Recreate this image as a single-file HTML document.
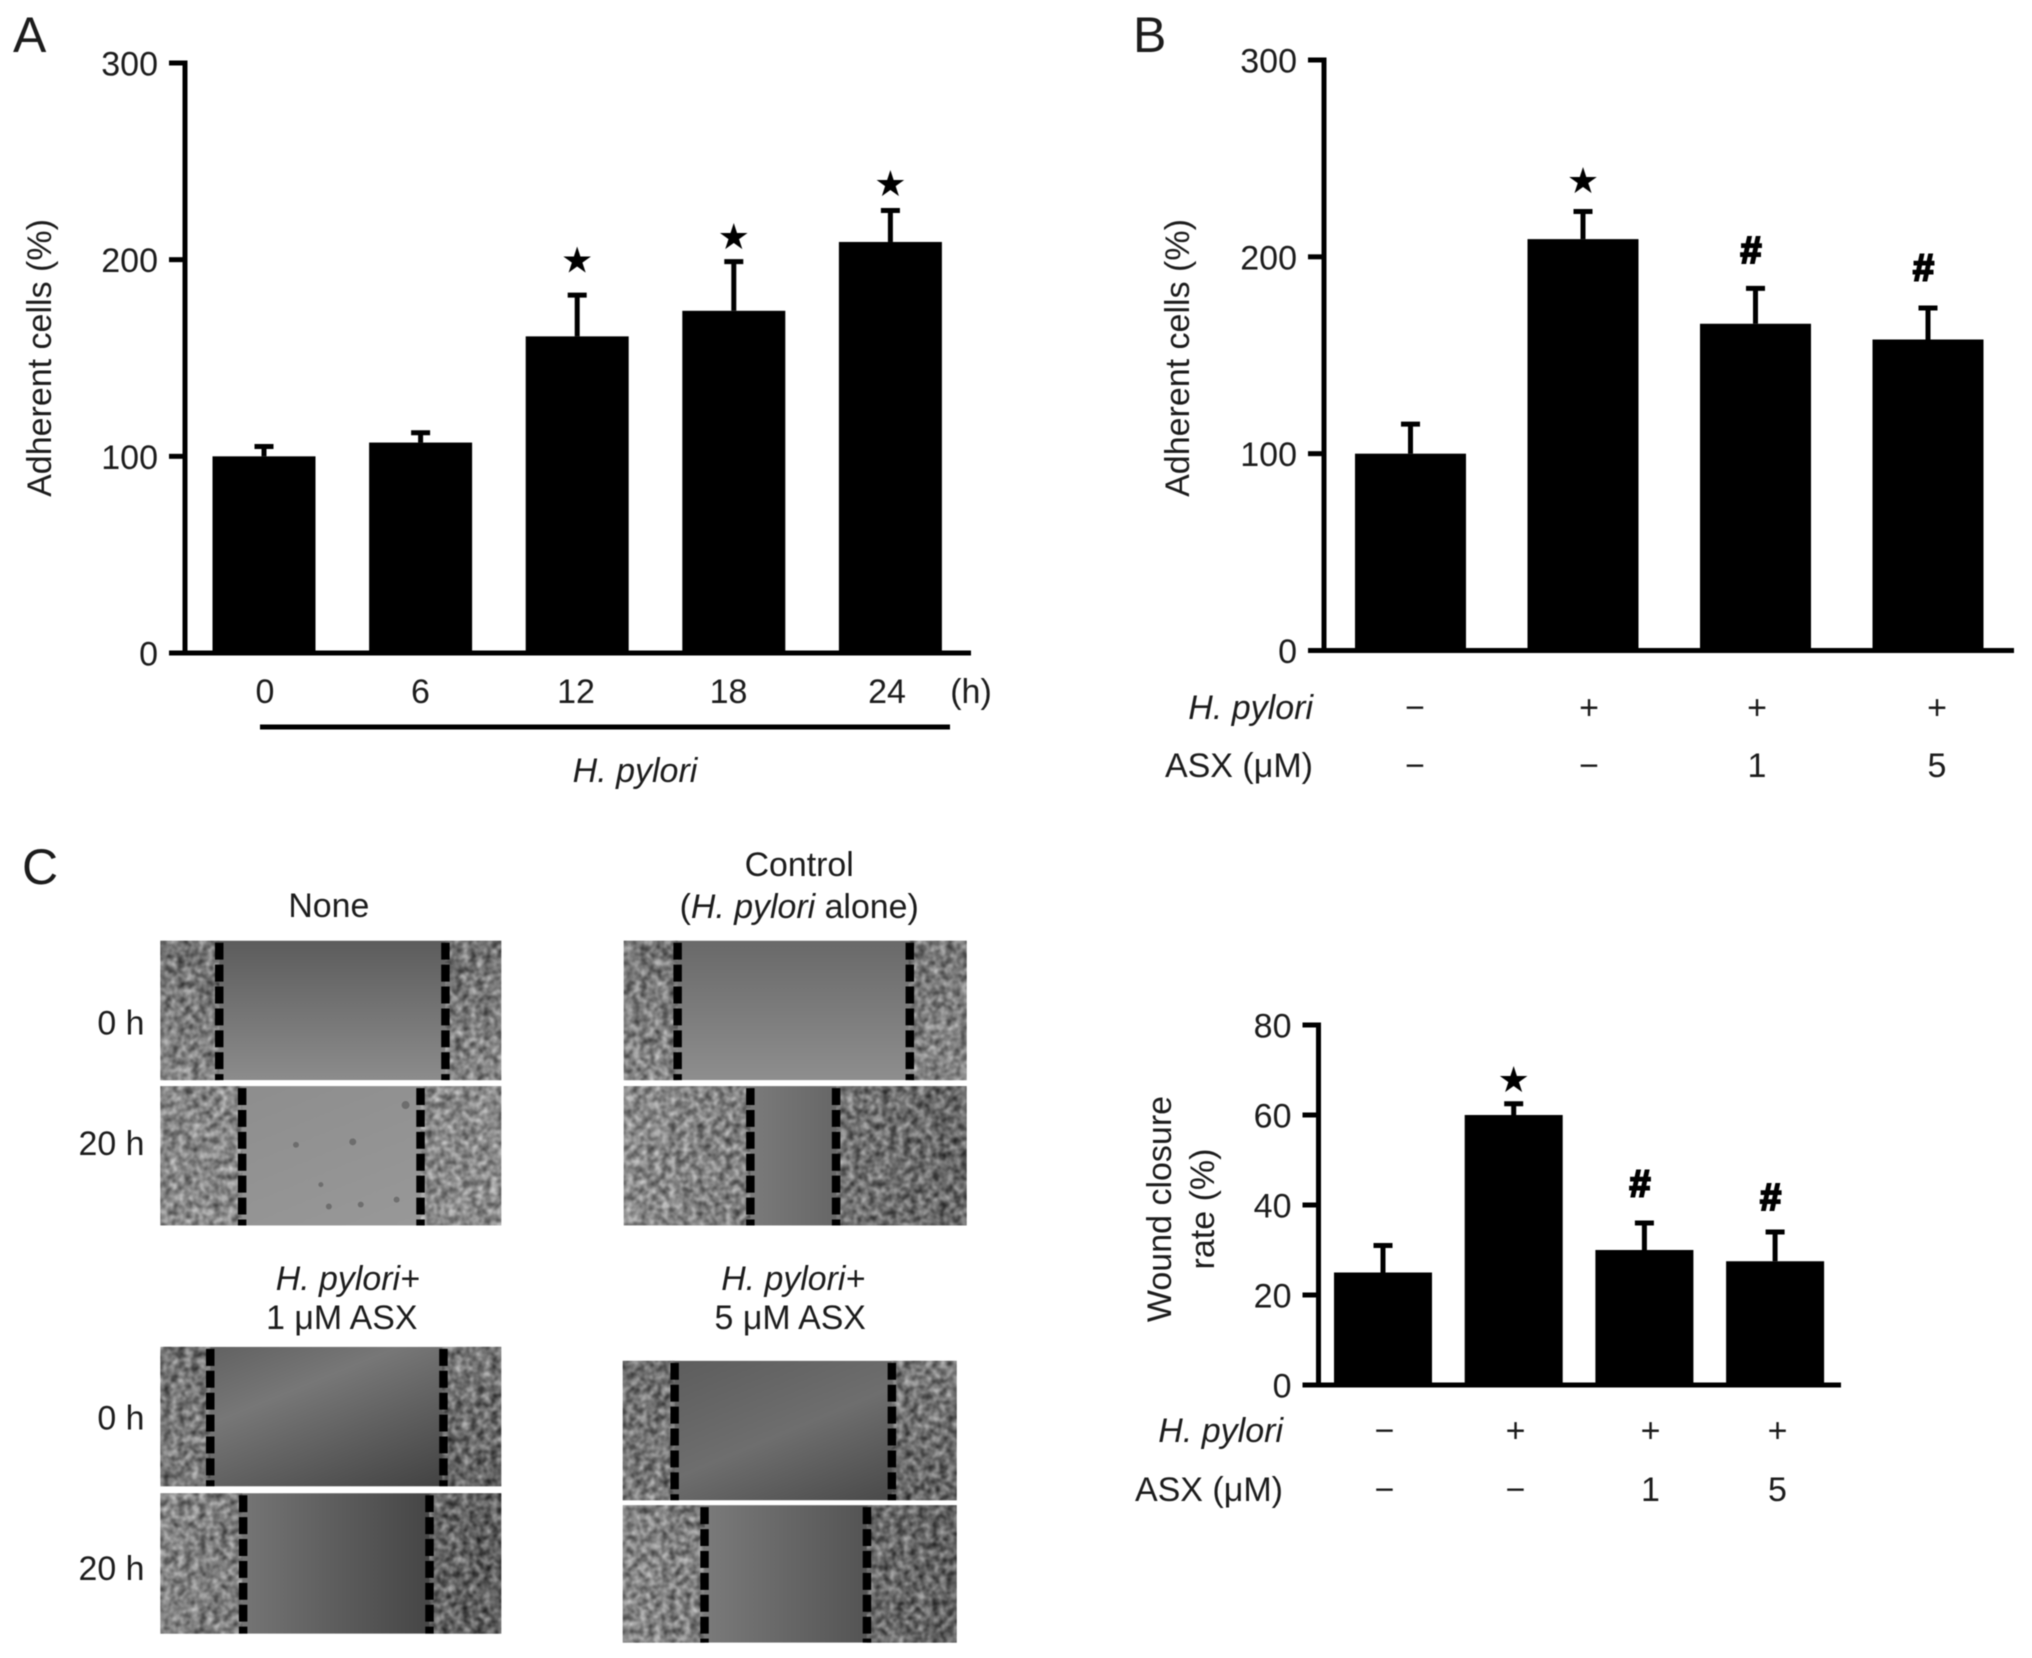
<!DOCTYPE html>
<html lang="en">
<head>
<meta charset="utf-8">
<title>H. pylori adherence and wound closure figure</title>
<style>
html,body{margin:0;padding:0;background:#fff;}
body{width:2032px;height:1658px;overflow:hidden;}
svg{display:block;filter:blur(0.6px);}
text{font-family:"Liberation Sans",sans-serif;fill:#1c1c1c;font-size:34px;}
.it{font-style:italic;}
</style>
</head>
<body>
<svg id="figure" xmlns="http://www.w3.org/2000/svg" width="2032" height="1658" viewBox="0 0 2032 1658">
<defs>
  <filter id="cells" x="0" y="0" width="100%" height="100%" color-interpolation-filters="sRGB">
    <feTurbulence type="fractalNoise" baseFrequency="0.14" numOctaves="2" seed="4"/>
    <feColorMatrix type="matrix" values="1.4 0 0 0 -0.2  1.4 0 0 0 -0.2  1.4 0 0 0 -0.2  0 0 0 0 0.55"/>
    <feGaussianBlur stdDeviation="0.7"/>
  </filter>
  <linearGradient id="g-none0" x1="0" y1="0" x2="0" y2="1"><stop offset="0" stop-color="#5c5c5c"/><stop offset="1" stop-color="#8c8c8c"/></linearGradient>
  <linearGradient id="g-none20" x1="0" y1="0" x2="1" y2="1"><stop offset="0" stop-color="#8c8c8c"/><stop offset="1" stop-color="#9a9a9a"/></linearGradient>
  <linearGradient id="g-ctrl0" x1="0" y1="0" x2="0" y2="1"><stop offset="0" stop-color="#696969"/><stop offset="1" stop-color="#8e8e8e"/></linearGradient>
  <linearGradient id="g-ctrl20" x1="0" y1="0" x2="1" y2="0"><stop offset="0" stop-color="#999"/><stop offset=".5" stop-color="#707070"/><stop offset="1" stop-color="#484848"/></linearGradient>
  <linearGradient id="g-h10" x1="0" y1="0" x2="1" y2="1"><stop offset="0" stop-color="#5c5c5c"/><stop offset=".35" stop-color="#777"/><stop offset="1" stop-color="#3a3a3a"/></linearGradient>
  <linearGradient id="g-h120" x1="0" y1="0" x2="1" y2="0"><stop offset="0" stop-color="#8a8a8a"/><stop offset="1" stop-color="#333"/></linearGradient>
  <linearGradient id="g-h50" x1="0" y1="0" x2="1" y2="1"><stop offset="0" stop-color="#5a5a5a"/><stop offset=".5" stop-color="#6e6e6e"/><stop offset="1" stop-color="#404040"/></linearGradient>
  <linearGradient id="g-h520" x1="0" y1="0" x2="1" y2="0"><stop offset="0" stop-color="#8e8e8e"/><stop offset="1" stop-color="#3e3e3e"/></linearGradient>
</defs>

<text x="13" y="52" style="font-size:50px">A</text>
<text x="1133" y="52" style="font-size:50px">B</text>
<text x="22" y="884" style="font-size:50px">C</text>

<g id="chart-a"></g>
<g id="chart-b"></g>
<g id="chart-c"></g>

<line x1="260" y1="727" x2="950" y2="727" stroke="#000" stroke-width="5"/>
<text class="it" x="635" y="782" text-anchor="middle">H. pylori</text>
<text x="971" y="703" text-anchor="middle">(h)</text>

<g transform="scale(0.9965 0.9955)">
<text x="330" y="921" text-anchor="middle">None</text>
<text x="802" y="880" text-anchor="middle">Control</text>
<text x="802" y="922" text-anchor="middle">(<tspan class="it">H. pylori</tspan> alone)</text>
<text class="it" x="349" y="1296" text-anchor="middle">H. pylori+</text>
<text x="343" y="1335" text-anchor="middle">1 μM ASX</text>
<text class="it" x="796" y="1296" text-anchor="middle">H. pylori+</text>
<text x="793" y="1335" text-anchor="middle">5 μM ASX</text>
<text x="145" y="1039" text-anchor="end">0 h</text>
<text x="145" y="1160" text-anchor="end">20 h</text>
<text x="145" y="1436" text-anchor="end">0 h</text>
<text x="145" y="1587" text-anchor="end">20 h</text>

<g>
  <rect x="161" y="945" width="342" height="140" fill="url(#g-none0)"/>
  <rect x="161" y="945" width="59" height="140" filter="url(#cells)"/>
  <rect x="447" y="945" width="56" height="140" filter="url(#cells)"/>
  <path d="M220 947V1085M447 947V1085" stroke="#000" stroke-width="8.5" stroke-dasharray="17 5" fill="none"/>
</g>
<g>
  <rect x="161" y="1091" width="342" height="140" fill="url(#g-none20)"/>
  <rect x="161" y="1091" width="82" height="140" filter="url(#cells)"/>
  <rect x="422" y="1091" width="81" height="140" filter="url(#cells)"/>
  <path d="M243 1093V1231M422 1093V1231" stroke="#000" stroke-width="8.5" stroke-dasharray="17 5" fill="none"/>
  <g fill="#555" opacity=".6"><circle cx="297" cy="1150" r="3"/><circle cx="354" cy="1147" r="3.5"/><circle cx="407" cy="1110" r="4"/><circle cx="322" cy="1190" r="2.5"/><circle cx="330" cy="1212" r="3"/><circle cx="362" cy="1210" r="3"/><circle cx="398" cy="1205" r="3"/></g>
</g>
<g>
  <rect x="626" y="945" width="344" height="140" fill="url(#g-ctrl0)"/>
  <rect x="626" y="945" width="54" height="140" filter="url(#cells)"/>
  <rect x="912" y="945" width="58" height="140" filter="url(#cells)"/>
  <path d="M680 947V1085M913 947V1085" stroke="#000" stroke-width="8.5" stroke-dasharray="17 5" fill="none"/>
</g>
<g>
  <rect x="626" y="1091" width="344" height="140" fill="url(#g-ctrl20)"/>
  <rect x="626" y="1091" width="127" height="140" filter="url(#cells)"/>
  <rect x="839" y="1091" width="131" height="140" filter="url(#cells)"/>
  <path d="M753 1093V1231M839 1093V1231" stroke="#000" stroke-width="8.5" stroke-dasharray="17 5" fill="none"/>
</g>
<g>
  <rect x="161" y="1353" width="342" height="140" fill="url(#g-h10)"/>
  <rect x="161" y="1353" width="50" height="140" filter="url(#cells)"/>
  <rect x="444" y="1353" width="59" height="140" filter="url(#cells)"/>
  <path d="M211 1355V1493M445 1355V1493" stroke="#000" stroke-width="8.5" stroke-dasharray="17 5" fill="none"/>
</g>
<g>
  <rect x="161" y="1500" width="342" height="141" fill="url(#g-h120)"/>
  <rect x="161" y="1500" width="82" height="141" filter="url(#cells)"/>
  <rect x="431" y="1500" width="72" height="141" filter="url(#cells)"/>
  <path d="M244 1502V1641M431 1502V1641" stroke="#000" stroke-width="8.5" stroke-dasharray="17 5" fill="none"/>
</g>
<g>
  <rect x="625" y="1367" width="335" height="140" fill="url(#g-h50)"/>
  <rect x="625" y="1367" width="52" height="140" filter="url(#cells)"/>
  <rect x="895" y="1367" width="65" height="140" filter="url(#cells)"/>
  <path d="M677 1369V1507M895 1369V1507" stroke="#000" stroke-width="8.5" stroke-dasharray="17 5" fill="none"/>
</g>
<g>
  <rect x="625" y="1512" width="335" height="138" fill="url(#g-h520)"/>
  <rect x="625" y="1512" width="82" height="138" filter="url(#cells)"/>
  <rect x="870" y="1512" width="90" height="138" filter="url(#cells)"/>
  <path d="M707 1514V1650M870 1514V1650" stroke="#000" stroke-width="8.5" stroke-dasharray="17 5" fill="none"/>
</g>
</g>
</svg>

<script>
// Panel A data
var aCategories = ['0', '6', '12', '18', '24'];
var aValues = [100, 107, 161, 174, 209];
var aErrors = [5, 5, 21, 25, 16];
var aMarks = ['', '', '*', '*', '*'];
var aMarkAt = [0, 0, 200, 212, 239];
var aTicks = [0, 100, 200, 300];
// Panel B data
var bValues = [100, 209, 166, 158];
var bErrors = [15, 14, 18, 16];
var bMarks = ['', '*', '#', '#'];
var bMarkAt = [0, 239, 204, 195];
var bTicks = [0, 100, 200, 300];
var bRowPylori = ['−', '+', '+', '+'];
var bRowAsx = ['−', '−', '1', '5'];
// Panel C data
var cValues = [25, 60, 30, 27.5];
var cErrors = [6, 2.5, 6, 6.5];
var cMarks = ['', '*', '#', '#'];
var cMarkAt = [0, 68, 45, 42];
var cTicks = [0, 20, 40, 60, 80];
var cRowPylori = ['−', '+', '+', '+'];
var cRowAsx = ['−', '−', '1', '5'];

var NS = 'http://www.w3.org/2000/svg';
function make(parent, tag, props, txt) {
  var el = document.createElementNS(NS, tag);
  for (var k in props) { el.setAttribute(k, props[k]); }
  if (txt !== undefined) { el.textContent = txt; }
  parent.appendChild(el);
  return el;
}

function drawChart(root, opt) {
  var yMax = opt.ticks[opt.ticks.length - 1];
  function yPos(v) { return opt.y0 - (v / yMax) * (opt.y0 - opt.yTop); }
  function xPos(i) { return opt.x0 + i * opt.step; }

  var yAxis = make(root, 'line', {x1: opt.axisX, x2: opt.axisX, y1: yPos(yMax) - 2.5, y2: opt.y0, stroke: '#000', 'stroke-width': 5});
  
  
  var xAxis = make(root, 'line', {x1: opt.axisX - 16, x2: opt.axisEnd, y1: opt.y0, y2: opt.y0, stroke: '#000', 'stroke-width': 5});
  
  

  opt.ticks.forEach(function (t) {
    var tick = make(root, 'line', {x1: opt.axisX - 16, x2: opt.axisX, y1: yPos(t), y2: yPos(t), stroke: '#000', 'stroke-width': 5});
    
    
    var lab = make(root, 'text', {x: opt.axisX - 27, y: yPos(t) + 12.5, 'text-anchor': 'end'}, String(t));
    
    
  });

  opt.values.forEach(function (v, i) {
    var cx = xPos(i);
    var top = yPos(v + opt.errors[i]);
    var stem = make(root, 'line', {x1: cx, x2: cx, y1: top, y2: yPos(v), stroke: '#000', 'stroke-width': 5});
    
    
    var cap = make(root, 'line', {x1: cx - 9.5, x2: cx + 9.5, y1: top, y2: top, stroke: '#000', 'stroke-width': 5});
    
    
    var bar = make(root, 'rect', {x: cx - opt.barW / 2, y: yPos(v), width: opt.barW, height: opt.y0 - yPos(v), fill: '#000'});
    
    
    var m = opt.marks[i];
    if (m === '*') {
      var star = make(root, 'text', {x: cx, y: yPos(opt.markAt[i]) + 13, 'text-anchor': 'middle', style: 'font-family:"DejaVu Sans",sans-serif;font-size:36px;fill:#000'}, '★');
      
      
    } else if (m === '#') {
      var hash = make(root, 'text', {x: cx - 5, y: yPos(opt.markAt[i]) + 14, 'text-anchor': 'middle', stroke: '#000', 'stroke-width': 2, style: 'font-weight:bold;font-style:italic;font-size:38px;fill:#000'}, '#');
      
      
    }
  });

  opt.rows.forEach(function (row) {
    if (row.head) {
      var head = make(root, 'text', {x: opt.rowHeadX, y: row.y, 'text-anchor': 'end', 'class': row.italic ? 'it' : ''}, row.head);
      
      
    }
    row.cells.forEach(function (c, i) {
      var nudge = i === opt.labelNudgeAt ? opt.labelNudge : 0;
      var cell = make(root, 'text', {x: opt.labelX0 + i * opt.labelStep + nudge, y: row.y, 'text-anchor': 'middle'}, c);
      
      
    });
  });

  opt.yTitle.forEach(function (line, i) {
    var x = opt.yTitleX + i * 43;
    var title = make(root, 'text', {x: x, y: opt.yTitleY, 'text-anchor': 'middle', transform: 'rotate(-90 ' + x + ' ' + opt.yTitleY + ')'}, line);
    
    
  });
}

drawChart(document.getElementById('chart-a'), {
  ticks: aTicks, values: aValues, errors: aErrors, marks: aMarks, markAt: aMarkAt,
  y0: 653, yTop: 63, axisX: 185, axisEnd: 971, x0: 264, step: 156.6, barW: 103,
  rowHeadX: 0, labelX0: 265, labelStep: 155.5, labelNudgeAt: 3, labelNudge: -3,
  rows: [{head: '', italic: false, y: 703, cells: aCategories}],
  yTitle: ['Adherent cells (%)'], yTitleX: 51, yTitleY: 358
});
drawChart(document.getElementById('chart-b'), {
  ticks: bTicks, values: bValues, errors: bErrors, marks: bMarks, markAt: bMarkAt,
  y0: 650.5, yTop: 60, axisX: 1324, axisEnd: 2014, x0: 1410.5, step: 172.5, barW: 111,
  rowHeadX: 1313, labelX0: 1415, labelStep: 174, labelNudgeAt: 2, labelNudge: -6,
  rows: [
    {head: 'H. pylori', italic: true, y: 719, cells: bRowPylori},
    {head: 'ASX (μM)', italic: false, y: 777, cells: bRowAsx}
  ],
  yTitle: ['Adherent cells (%)'], yTitleX: 1189, yTitleY: 358
});
drawChart(document.getElementById('chart-c'), {
  ticks: cTicks, values: cValues, errors: cErrors, marks: cMarks, markAt: cMarkAt,
  y0: 1385, yTop: 1025, axisX: 1318.5, axisEnd: 1841, x0: 1383, step: 130.7, barW: 98,
  rowHeadX: 1283, labelX0: 1384.5, labelStep: 131, labelNudgeAt: 2, labelNudge: 4,
  rows: [
    {head: 'H. pylori', italic: true, y: 1442, cells: cRowPylori},
    {head: 'ASX (μM)', italic: false, y: 1501, cells: cRowAsx}
  ],
  yTitle: ['Wound closure', 'rate (%)'], yTitleX: 1171, yTitleY: 1209
});
</script>
</body>
</html>
